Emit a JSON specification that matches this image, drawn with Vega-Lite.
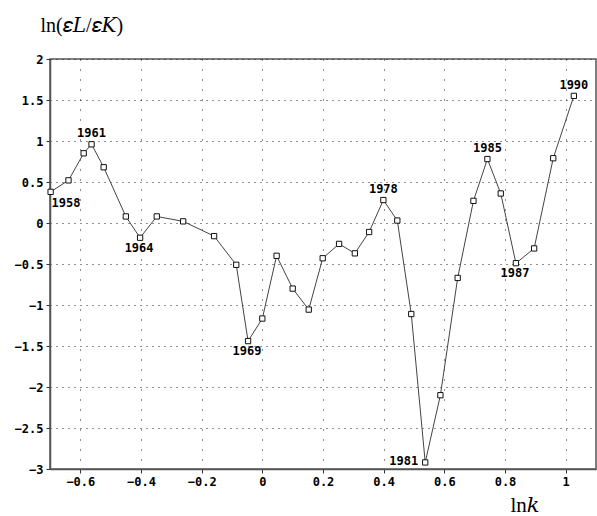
{
  "$schema": "https://vega.github.io/schema/vega-lite/v6.json",
  "autosize": "none",
  "width": 546,
  "height": 410,
  "padding": {"left": 50, "top": 59, "right": 1, "bottom": 47},
  "background": "white",
  "config": {
    "view": {"stroke": "#555", "strokeWidth": 1.5},
    "axis": {
      "labelFont": "DejaVu Sans Mono",
      "labelFontWeight": "bold",
      "labelFontSize": 12,
      "labelColor": "#000",
      "domainColor": "#555",
      "domainWidth": 1.5,
      "tickColor": "#333",
      "tickSize": 4,
      "labelPadding": 3,
      "grid": true,
      "gridColor": "#222",
      "gridOpacity": 1,
      "titleFont": "Liberation Serif, DejaVu Serif",
      "titleFontWeight": "normal",
      "titleFontSize": 20,
      "titleColor": "#000"
    }
  },
  "data": {
    "values": [
      {"year": 1958, "lnk": -0.698, "v": 0.38, "label": "1958", "pos": "belowright"},
      {"year": 1959, "lnk": -0.639, "v": 0.52},
      {"year": 1960, "lnk": -0.589, "v": 0.85},
      {"year": 1961, "lnk": -0.563, "v": 0.96, "label": "1961", "pos": "above"},
      {"year": 1962, "lnk": -0.523, "v": 0.68},
      {"year": 1963, "lnk": -0.450, "v": 0.08},
      {"year": 1964, "lnk": -0.403, "v": -0.18, "label": "1964", "pos": "below"},
      {"year": 1965, "lnk": -0.348, "v": 0.08},
      {"year": 1966, "lnk": -0.261, "v": 0.02},
      {"year": 1967, "lnk": -0.159, "v": -0.16},
      {"year": 1968, "lnk": -0.086, "v": -0.51},
      {"year": 1969, "lnk": -0.047, "v": -1.44, "label": "1969", "pos": "below"},
      {"year": 1970, "lnk": 0.000, "v": -1.165},
      {"year": 1971, "lnk": 0.047, "v": -0.40},
      {"year": 1972, "lnk": 0.100, "v": -0.80},
      {"year": 1973, "lnk": 0.153, "v": -1.056},
      {"year": 1974, "lnk": 0.199, "v": -0.43},
      {"year": 1975, "lnk": 0.253, "v": -0.255},
      {"year": 1976, "lnk": 0.305, "v": -0.37},
      {"year": 1977, "lnk": 0.352, "v": -0.11},
      {"year": 1978, "lnk": 0.399, "v": 0.28, "label": "1978", "pos": "above"},
      {"year": 1979, "lnk": 0.445, "v": 0.03},
      {"year": 1980, "lnk": 0.491, "v": -1.11},
      {"year": 1981, "lnk": 0.537, "v": -2.92, "label": "1981", "pos": "left"},
      {"year": 1982, "lnk": 0.587, "v": -2.10},
      {"year": 1983, "lnk": 0.644, "v": -0.67},
      {"year": 1984, "lnk": 0.696, "v": 0.27},
      {"year": 1985, "lnk": 0.742, "v": 0.78, "label": "1985", "pos": "above"},
      {"year": 1986, "lnk": 0.786, "v": 0.36},
      {"year": 1987, "lnk": 0.836, "v": -0.49, "label": "1987", "pos": "below"},
      {"year": 1988, "lnk": 0.896, "v": -0.31},
      {"year": 1989, "lnk": 0.959, "v": 0.79},
      {"year": 1990, "lnk": 1.027, "v": 1.55, "label": "1990", "pos": "above"}
    ]
  },
  "encoding": {
    "x": {
      "field": "lnk", "type": "quantitative",
      "scale": {"domain": [-0.7, 1.1], "nice": false, "zero": false},
      "axis": {
        "values": [-0.6, -0.4, -0.2, 0, 0.2, 0.4, 0.6, 0.8, 1],
        "gridDash": [1, 9],
        "labelExpr": "datum.value == 0 ? '0' : format(datum.value, '.1~f')",
        "title": "ln𝑘",
        "titleAlign": "left",
        "titleBaseline": "alphabetic",
        "titleX": 460,
        "titleY": 42,
        "titleFontSize": 21
      }
    },
    "y": {
      "field": "v", "type": "quantitative",
      "scale": {"domain": [-3, 2], "nice": false, "zero": false},
      "axis": {
        "values": [-3, -2.5, -2, -1.5, -1, -0.5, 0, 0.5, 1, 1.5, 2],
        "gridDash": [1, 5],
        "labelExpr": "format(datum.value, '~g')",
        "title": "ln(𝜀𝐿/𝜀𝐾)",
        "titleAngle": 0,
        "titleAlign": "left",
        "titleBaseline": "alphabetic",
        "titleX": -10,
        "titleY": -28
      }
    }
  },
  "layer": [
    {
      "mark": {"type": "line", "color": "#444", "strokeWidth": 1},
      "encoding": {"order": {"field": "year"}}
    },
    {
      "mark": {"type": "point", "shape": "square", "size": 28, "filled": false, "stroke": "#111", "strokeWidth": 1, "fill": "white", "fillOpacity": 1}
    },
    {
      "transform": [{"filter": "datum.pos == 'above'"}],
      "mark": {"type": "text", "font": "DejaVu Sans Mono", "fontWeight": "bold", "fontSize": 12, "align": "center", "baseline": "alphabetic", "dy": -7, "color": "#000"},
      "encoding": {"text": {"field": "label"}}
    },
    {
      "transform": [{"filter": "datum.pos == 'below'"}],
      "mark": {"type": "text", "font": "DejaVu Sans Mono", "fontWeight": "bold", "fontSize": 12, "align": "center", "baseline": "alphabetic", "dy": 14, "dx": -1, "color": "#000"},
      "encoding": {"text": {"field": "label"}}
    },
    {
      "transform": [{"filter": "datum.pos == 'belowright'"}],
      "mark": {"type": "text", "font": "DejaVu Sans Mono", "fontWeight": "bold", "fontSize": 12, "align": "left", "baseline": "alphabetic", "dy": 15, "dx": 1, "color": "#000"},
      "encoding": {"text": {"field": "label"}}
    },
    {
      "transform": [{"filter": "datum.pos == 'left'"}],
      "mark": {"type": "text", "font": "DejaVu Sans Mono", "fontWeight": "bold", "fontSize": 12, "align": "right", "baseline": "alphabetic", "dy": 3, "dx": -7, "color": "#000"},
      "encoding": {"text": {"field": "label"}}
    }
  ]
}
